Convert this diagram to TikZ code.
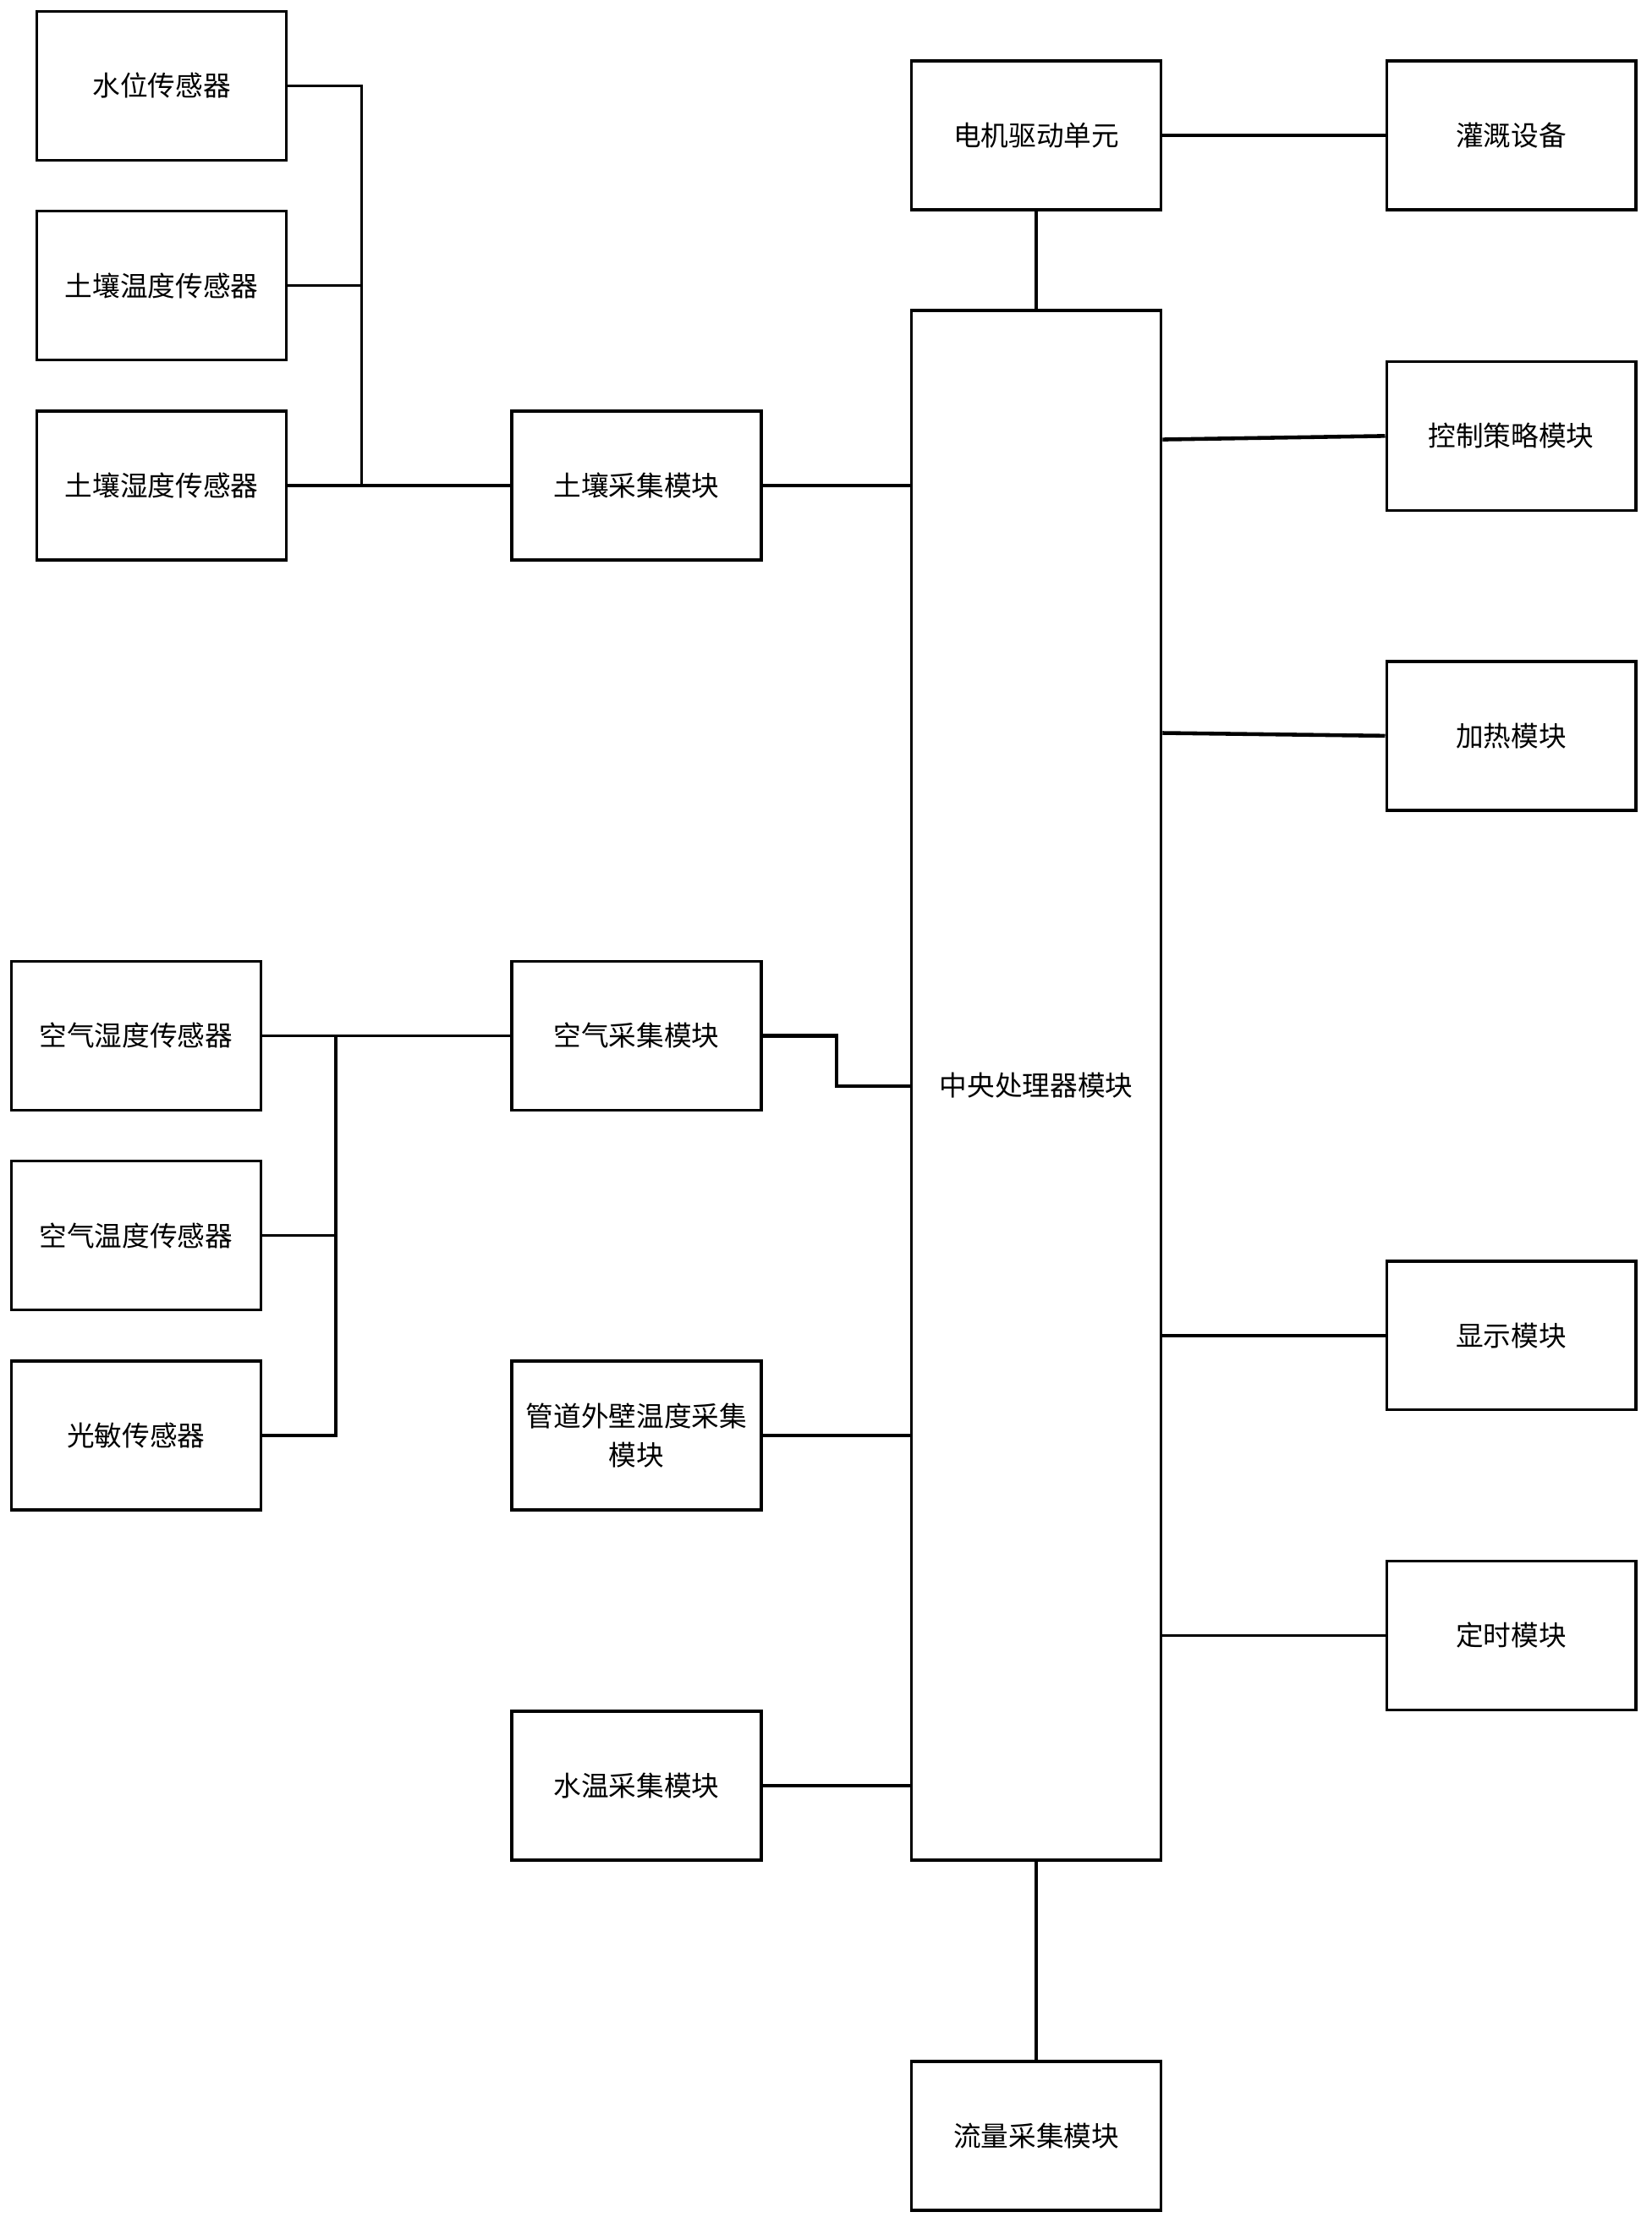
\documentclass[tikz,border=0pt]{standalone}
\usepackage{fontspec}
\setmainfont{Noto Sans CJK SC}
\begin{document}
\begin{tikzpicture}[x=0.016764cm,y=-0.016764cm,
  box/.style={draw,line width=0.95pt,minimum width=176*0.016764cm,minimum height=105*0.016764cm,
    inner sep=0pt,align=center,font=\fontsize{9.3}{12.9}\selectfont},
  wire/.style={line width=1pt}]
\useasboundingbox (0,0) rectangle (1165,1568);
% left sensors (soil)
\node[box] (wl) at (114,60.5) {水位传感器};
\node[box] (st) at (114,201.5) {土壤温度传感器};
\node[box] (sh) at (114,342.5) {土壤湿度传感器};
\node[box] (soil) at (449,342.5) {土壤采集模块};
% motor / irrigation
\node[box] (motor) at (731,95.5) {电机驱动单元};
\node[box] (irr) at (1066,95.5) {灌溉设备};
% CPU
\node[box,minimum height=1093*0.016764cm] (cpu) at (731,765.5) {中央处理器模块};
% right modules
\node[box] (ctrl) at (1066,307.5) {控制策略模块};
\node[box] (heat) at (1066,519) {加热模块};
\node[box] (disp) at (1066,942) {显示模块};
\node[box] (timer) at (1066,1153.5) {定时模块};
% air sensors
\node[box] (ah) at (96,730.5) {空气湿度传感器};
\node[box] (at) at (96,871.5) {空气温度传感器};
\node[box] (lt) at (96,1012.5) {光敏传感器};
\node[box] (air) at (449,730.5) {空气采集模块};
\node[box] (pipe) at (449,1012.5) {管道外壁温度采集\\模块};
\node[box] (wt) at (449,1259.5) {水温采集模块};
\node[box] (flow) at (731,1506.5) {流量采集模块};
% soil bus
\coordinate (sb1) at (255,60.5);
\coordinate (sb3) at (255,342.5);
\draw[wire] (wl.east) -- (sb1) -- (sb3);
\draw[wire] (st.east) -- (st.east -| sb1);
\draw[wire] (sh.east) -- (soil.west);
\draw[wire] (soil.east) -- (soil.east -| cpu.west);
% motor
\draw[wire] (motor.south) -- (cpu.north);
\draw[wire] (motor.east) -- (irr.west);
% right side
\draw[wire,line width=1.3pt] (cpu.east |- 0,310) -- (ctrl.west);
\draw[wire,line width=1.3pt] (cpu.east |- 0,517) -- (heat.west);
\draw[wire] (disp.west) -- (disp.west -| cpu.east);
\draw[wire] (timer.west) -- (timer.west -| cpu.east);
% air bus
\coordinate (ab1) at (237,730.5);
\draw[wire] (ah.east) -- (air.west);
\draw[wire] (ab1) -- (ab1 |- lt.east) -- (lt.east);
\draw[wire] (at.east) -- (at.east -| ab1);
\coordinate (aj) at (590,766);
\draw[wire,line width=1.3pt] (air.east) -- (air.east -| aj) -- (aj) -- (aj -| cpu.west);
\draw[wire] (pipe.east) -- (pipe.east -| cpu.west);
\draw[wire] (wt.east) -- (wt.east -| cpu.west);
\draw[wire] (cpu.south) -- (flow.north);
\end{tikzpicture}
\end{document}
